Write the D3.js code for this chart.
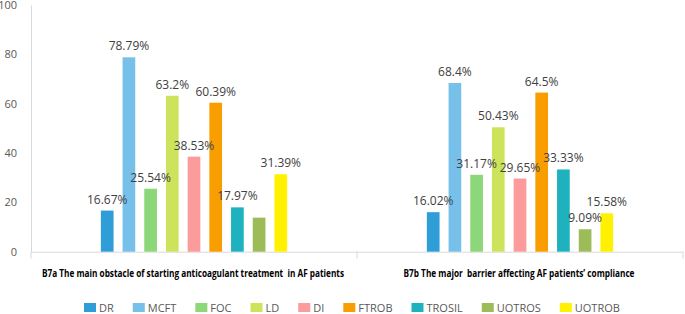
<!DOCTYPE html>
<html>
<head>
<meta charset="utf-8">
<script src="https://cdn.jsdelivr.net/npm/d3@7/dist/d3.min.js"></script>
<style>
  body { margin: 0; background: #fff; }
  svg { display: block; }
</style>
</head>
<body>
<svg width="685" height="314"></svg>
<script>
// data
var groups = ["B7a The main obstacle of starting anticoagulant treatment  in AF patients",
              "B7b The major  barrier affecting AF patients\u2019 compliance"];
var series = ["DR", "MCFT", "FOC", "LD", "DI", "FTROB", "TROSIL", "UOTROS", "UOTROB"];
var valuesB7a = [16.67, 78.79, 25.54, 63.2, 38.53, 60.39, 17.97, 13.8, 31.39];
var valuesB7b = [16.02, 68.4, 31.17, 50.43, 29.65, 64.5, 33.33, 9.09, 15.58];
// labels as printed (one bar in B7a has none)
var labelsB7a = ["16.67%", "78.79%", "25.54%", "63.2%", "38.53%", "60.39%", "17.97%", null, "31.39%"];
var labelsB7b = ["16.02%", "68.4%", "31.17%", "50.43%", "29.65%", "64.5%", "33.33%", "9.09%", "15.58%"];
var yTicks = [0, 20, 40, 60, 80, 100];

var colors = ["#2f9dd8", "#76c0ea", "#8dd77b", "#cee35c", "#fb9b9b", "#f99e00", "#1eb2bf", "#9cbb59", "#fff100"];
var font = "'Open Sans', 'Noto Sans', sans-serif";

// plot box (window.top is reserved, so use other names)
var svg = d3.select("svg"),
    plotL = 31, plotR = 683, plotT = 5, plotB = 251.7;

var x0 = d3.scaleBand().domain(groups).range([plotL, plotR]).padding(0);
var x1 = d3.scaleBand().domain(series).range([0, x0.bandwidth()])
    .paddingInner(0.415).paddingOuter(3.22);
var y = d3.scaleLinear().domain([0, 100]).range([plotB, plotT]);
var color = d3.scaleOrdinal().domain(series).range(colors);

var rows = [
  {group: groups[0], values: valuesB7a, labels: labelsB7a},
  {group: groups[1], values: valuesB7b, labels: labelsB7b}
];

// y axis (labels only + light line)
var yAxis = svg.append("g")
    .attr("transform", "translate(" + plotL + ",0)")
    .call(d3.axisLeft(y).tickValues(yTicks).tickSize(0).tickPadding(14));
yAxis.select(".domain").attr("stroke", "#d9d9d9");
yAxis.selectAll("text")
    .attr("fill", "#595959")
    .style("font-family", font)
    .style("font-size", "11px");

// x axis baseline with group dividers
var xAxis = svg.append("g")
    .attr("transform", "translate(0," + plotB + ")")
    .call(d3.axisBottom(x0).tickSize(0).tickFormat(""));
xAxis.select(".domain").attr("stroke", "#d9d9d9");
svg.append("g").selectAll("line")
    .data([plotL, x0(groups[1]), plotR])
    .enter().append("line")
    .attr("x1", function(d) { return d; })
    .attr("x2", function(d) { return d; })
    .attr("y1", plotB)
    .attr("y2", plotB + 7)
    .attr("stroke", "#d9d9d9");

// bars
var g = svg.selectAll(".grp")
    .data(rows)
    .enter().append("g")
    .attr("class", "grp")
    .attr("transform", function(d) { return "translate(" + x0(d.group) + ",0)"; });

g.selectAll("rect")
    .data(function(d) { return series.map(function(s, i) { return {s: s, v: d.values[i], l: d.labels[i]}; }); })
    .enter().append("rect")
    .attr("x", function(d) { return x1(d.s); })
    .attr("y", function(d) { return y(d.v); })
    .attr("width", x1.bandwidth())
    .attr("height", function(d) { return plotB - y(d.v); })
    .attr("fill", function(d) { return color(d.s); });

// value labels
g.selectAll("text.val")
    .data(function(d) {
      return series.map(function(s, i) { return {s: s, v: d.values[i], l: d.labels[i]}; })
        .filter(function(d) { return d.l; });
    })
    .enter().append("text")
    .attr("class", "val")
    .attr("x", function(d) { return x1(d.s) + x1.bandwidth() / 2; })
    .attr("y", function(d) { return y(d.v) - 7; })
    .attr("text-anchor", "middle")
    .attr("fill", "#404040")
    .style("font-family", font)
    .style("font-size", "12px")
    .text(function(d) { return d.l; });

// category labels
var catWidths = [302, 231];
svg.selectAll("text.cat")
    .data(groups)
    .enter().append("text")
    .attr("class", "cat")
    .attr("x", function(d, i) { return x0(d) + x0.bandwidth() / 2 - catWidths[i] / 2 - 1; })
    .attr("y", 277)
    .attr("textLength", function(d, i) { return catWidths[i]; })
    .attr("lengthAdjust", "spacingAndGlyphs")
    .attr("fill", "#000")
    .style("font-family", font)
    .style("font-weight", "bold")
    .style("font-size", "10.5px")
    .style("white-space", "pre")
    .text(function(d) { return d; });

// legend
var legend = svg.append("g").attr("class", "legend")
    .attr("transform", "translate(84,0)");
var item = legend.selectAll("g")
    .data(series)
    .enter().append("g");
item.append("rect")
    .attr("y", 303)
    .attr("width", 12)
    .attr("height", 9)
    .attr("fill", function(d) { return color(d); });
item.append("text")
    .attr("x", 15)
    .attr("y", 311.5)
    .attr("fill", "#595959")
    .style("font-family", font)
    .style("font-size", "11px")
    .text(function(d) { return d; });

var cx = 0;
item.each(function() {
  var it = d3.select(this);
  it.attr("transform", "translate(" + cx + ",0)");
  cx += 15 + it.select("text").node().getComputedTextLength() + 19;
});
</script>
</body>
</html>
